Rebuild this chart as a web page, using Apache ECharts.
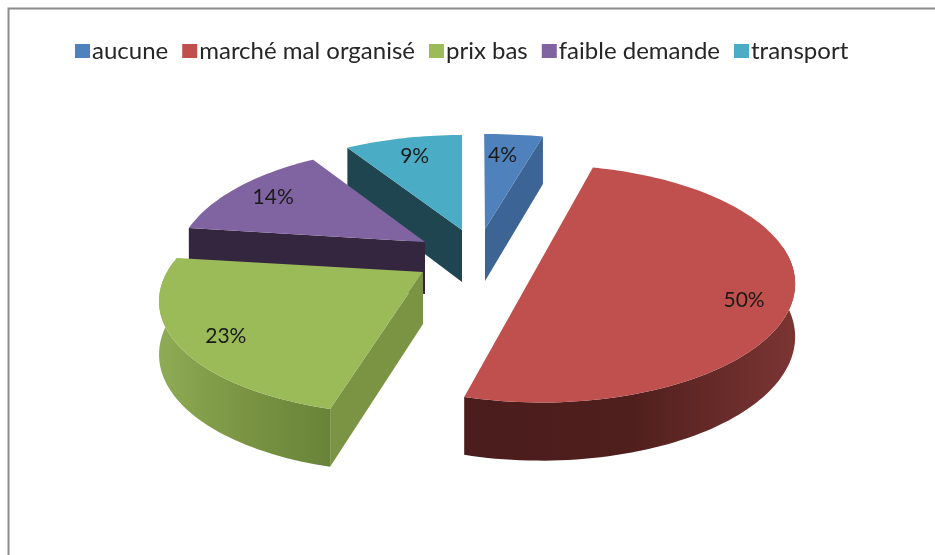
<!DOCTYPE html>
<html><head><meta charset="utf-8">
<style>html,body{margin:0;padding:0;background:#fff}#c{width:935px;height:555px}</style>
<script src="https://cdn.jsdelivr.net/npm/echarts@6/dist/echarts.min.js"></script>
</head><body><div id="c"></div>
<script>
const categories = ['aucune','marché mal organisé','prix bas','faible demande','transport'];
const values = [4,50,23,14,9];
const colors = ['#4F81BD','#C0504D','#9BBB59','#8064A2','#4BACC6'];
const edgeColors = ['#3C6595','#000000','#7A9443','#35263F','#1F4650'];
const wallStops = [null,['#7B3533','#4F1F1D','#4A1C1B'],['#8EAB55','#7A9443','#698339'],null,null];
// per-slice exploded placement: apex x, apex y, x radius, y radius, x shear
const apexX = [485,541,423,425,462];
const apexY = [229,260,272,242,230];
const radiusX = [282,249,256,244,250];
const radiusY = [114,114,114,114,114];
const shearX = [-1,0,11.6,0,0];
// which radial edge shows a wall: 'start', 'end' or none
const radialEdge = ['end',null,'start','start','start'];
const labelRadial = [0.75,0.83,0.84,0.8,0.78];
const labelTurn = [-1.5,9,-3,0,0];
const perspective = 0.2, thick = 52;
const drawOrder = [0,4,3,2,1];
const total = values.reduce((a,b)=>a+b,0);

function sliceAngles(i){
  let s=0; for(let j=0;j<i;j++) s+=values[j];
  return [s/total*360,(s+values[i])/total*360];
}
function project(i,deg,r,down){
  const a=deg*Math.PI/180,u=Math.sin(a)*r,v=Math.cos(a)*r,w=1+perspective*v;
  return [apexX[i]+(radiusX[i]*u+shearX[i]*v)/w,
          apexY[i]-radiusY[i]*v/w+(down?thick/Math.sqrt(w):0)];
}
function renderSlice(i){
  return function(params,api){
    const val=api.value(0);
    const [a0,a1]=sliceAngles(i);
    const arc=[],n=Math.max(8,Math.round((a1-a0)/1.5));
    for(let k=0;k<=n;k++) arc.push(a0+(a1-a0)*k/n);
    const children=[];
    const front=arc.filter(a=>Math.cos(a*Math.PI/180)<0.12);
    if(wallStops[i]&&front.length>1){
      const pts=front.map(a=>project(i,a,1,false)).concat(front.slice().reverse().map(a=>project(i,a,1,true)));
      const st=wallStops[i];
      children.push({type:'polygon',shape:{points:pts},style:{
        fill:new echarts.graphic.LinearGradient(0,0,1,0,[{offset:0,color:i===1?st[2]:st[0]},{offset:.5,color:st[1]},{offset:1,color:i===1?st[0]:st[2]}].map(x=>x))}});
    }
    if(radialEdge[i]){
      const e=radialEdge[i]==='start'?a0:a1;
      children.push({type:'polygon',shape:{points:[
        project(i,e,0,false),project(i,e,1,false),project(i,e,1,true),project(i,e,0,true)]},
        style:{fill:edgeColors[i]}});
    }
    const top=[project(i,0,0,false)].concat(arc.map(a=>project(i,a,1,false)));
    children.push({type:'polygon',shape:{points:top},style:{fill:colors[i]}});
    const lp=project(i,(a0+a1)/2+labelTurn[i],labelRadial[i],false);
    children.push({type:'text',style:{text:val+'%',x:lp[0],y:lp[1],align:'center',verticalAlign:'middle',
      font:'21px Lato',fill:'#1a1a1a'}});
    return {type:'group',children};
  };
}
const chart=echarts.init(document.getElementById('c'),null,{renderer:'canvas'});
chart.setOption({
  animation:false,
  backgroundColor:'#fff',
  legend:{data:categories,left:70,top:34,icon:'rect',itemWidth:15,itemHeight:14,itemGap:14,
    textStyle:{fontFamily:'Lato',fontSize:24,color:'#262626',padding:[0,0,0,-3]}},
  graphic:[{type:'rect',silent:true,shape:{x:8.5,y:8.5,width:960,height:600},
    style:{fill:'none',stroke:'#8c8c8c',lineWidth:2}}],
  series:drawOrder.map(i=>({type:'custom',name:categories[i],coordinateSystem:'none',
    itemStyle:{color:colors[i]},data:[values[i]],renderItem:renderSlice(i)}))
});
</script></body></html>
